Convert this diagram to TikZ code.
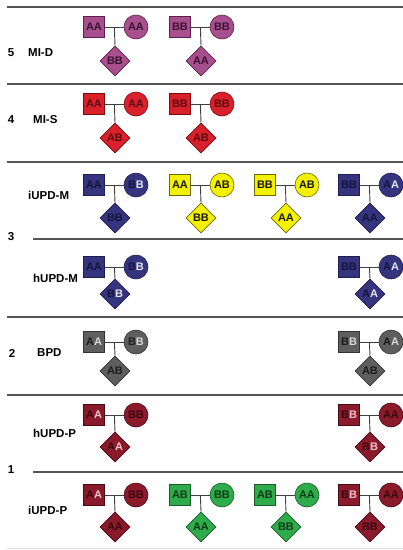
\documentclass[tikz,border=0pt]{standalone}
\usepackage{fontspec}
\setmainfont{Liberation Sans}
\usetikzlibrary{shapes.geometric,calc}

% fill, text and outline colours of each family
\definecolor{magF}{HTML}{AA4F8E}\definecolor{magT}{HTML}{3A1232}\definecolor{magD}{HTML}{5A2050}
\definecolor{redF}{HTML}{D9202B}\definecolor{redT}{HTML}{5C0A10}\definecolor{redD}{HTML}{7A0A10}
\definecolor{bluF}{HTML}{35357F}\definecolor{bluT}{HTML}{15153D}\definecolor{bluD}{HTML}{1E1E50}\definecolor{bluL}{HTML}{E6E6F5}
\definecolor{yelF}{HTML}{F3F000}\definecolor{yelT}{HTML}{1A1A00}\definecolor{yelD}{HTML}{6A6A00}
\definecolor{gryF}{HTML}{5E5E5E}\definecolor{gryT}{HTML}{1C1C1C}\definecolor{gryD}{HTML}{333333}\definecolor{gryL}{HTML}{DADADA}
\definecolor{drdF}{HTML}{8B1A2A}\definecolor{drdT}{HTML}{3A0810}\definecolor{drdD}{HTML}{4A0A15}\definecolor{drdL}{HTML}{F5C5CC}
\definecolor{grnF}{HTML}{2EAB4A}\definecolor{grnT}{HTML}{0E3A18}\definecolor{grnD}{HTML}{1A5A28}
\definecolor{rule}{HTML}{555555}

\newcommand{\hlb}[1]{\textcolor{bluL}{#1}}
\newcommand{\hlg}[1]{\textcolor{gryL}{#1}}
\newcommand{\hlr}[1]{\textcolor{drdL}{#1}}

% one family: father square, mother circle, child diamond
% #1 name, #2 x of square, #3 y of square, #4 y of diamond, #5 colour style, #6-#8 genotypes
\newcommand{\ped}[8]{%
  \node[sq,#5] (#1s) at (#2,#3) {#6};
  \node[ci,#5] (#1c) at (#2+42,#3) {#7};
  \node[dm,#5] (#1d) at (#2+21,#4) {#8};
  \draw[link] (#1s) -- (#1c);
  \coordinate (#1m) at ($(#1s.east)!0.5!(#1c.west)$);
  \draw[link] (#1m) -- (#1d.north);
}

\begin{document}
\begin{tikzpicture}[x=1pt,y=-1pt,
  geno/.style={inner sep=0pt,line width=0.6pt,font=\fontsize{11}{11}\selectfont\bfseries},
  sq/.style={geno,rectangle,minimum size=21.5pt},
  ci/.style={geno,circle,minimum size=24pt},
  dm/.style={geno,diamond,aspect=1,minimum size=30pt},
  mag/.style={fill=magF,draw=magD,text=magT},
  red/.style={fill=redF,draw=redD,text=redT},
  blu/.style={fill=bluF,draw=bluD,text=bluT},
  yel/.style={fill=yelF,draw=yelD,text=yelT},
  gry/.style={fill=gryF,draw=gryD,text=gryT},
  drd/.style={fill=drdF,draw=drdD,text=drdT},
  grn/.style={fill=grnF,draw=grnD,text=grnT},
  link/.style={draw=black!75,line width=0.9pt},
  sep/.style={draw=rule,line width=1.2pt},
  lbl/.style={anchor=west,inner sep=0pt,font=\fontsize{11.5}{11.5}\selectfont\bfseries},
  num/.style={inner sep=0pt,font=\fontsize{11.5}{11.5}\selectfont\bfseries}]
\useasboundingbox (0,0) rectangle (403,550);

% section rules
\coordinate (r0a) at (7,7);   \coordinate (r0b) at (403,7);
\coordinate (r1a) at (7,84);  \coordinate (r1b) at (403,84);
\coordinate (r2a) at (7,162); \coordinate (r2b) at (403,162);
\coordinate (r3a) at (33,239);\coordinate (r3b) at (403,239);
\coordinate (r4a) at (7,317); \coordinate (r4b) at (403,317);
\coordinate (r5a) at (7,395); \coordinate (r5b) at (403,395);
\coordinate (r6a) at (33,472);\coordinate (r6b) at (403,472);
\coordinate (r7a) at (7,548); \coordinate (r7b) at (403,548);
\foreach \i in {0,...,6} \draw[sep] (r\i a) -- (r\i b);
\draw[draw=black!12,line width=1pt] (r7a) -- (r7b);

% class numbers and names
\node[num] (n5) at (11,53) {5};
\node[num] (n4) at (11,120) {4};
\node[num] (n3) at (11,237) {3};
\node[num] (n2) at (12,353) {2};
\node[num] (n1) at (11,470) {1};
\node[lbl] (tMID) at (28,53) {MI-D};
\node[lbl] (tMIS) at (33,120) {MI-S};
\node[lbl] (tiM)  at (28,195) {iUPD-M};
\node[lbl] (thM)  at (33,278) {hUPD-M};
\node[lbl] (tBPD) at (37,353) {BPD};
\node[lbl] (thP)  at (33,433) {hUPD-P};
\node[lbl] (tiP)  at (28,510) {iUPD-P};

% 5 MI-D
\ped{a1}{94}{27}{61}{mag}{AA}{AA}{BB}
\ped{a2}{180}{27}{61}{mag}{BB}{BB}{AA}
% 4 MI-S
\ped{b1}{94}{104}{138}{red}{AA}{AA}{AB}
\ped{b2}{180}{104}{138}{red}{BB}{BB}{AB}
% 3 iUPD-M
\ped{c1}{94}{185}{218}{blu}{AA}{B\hlb{B}}{BB}
\ped{c2}{180}{185}{218}{yel}{AA}{AB}{BB}
\ped{c3}{265}{185}{218}{yel}{BB}{AB}{AA}
\ped{c4}{349}{185}{218}{blu}{BB}{A\hlb{A}}{AA}
% 3 hUPD-M
\ped{d1}{94}{267}{294}{blu}{AA}{B\hlb{B}}{B\hlb{B}}
\ped{d4}{349}{267}{294}{blu}{BB}{A\hlb{A}}{A\hlb{A}}
% 2 BPD
\ped{e1}{94}{342}{371}{gry}{A\hlg{A}}{B\hlg{B}}{AB}
\ped{e4}{349}{342}{371}{gry}{B\hlg{B}}{A\hlg{A}}{AB}
% 1 hUPD-P
\ped{f1}{94}{415}{447}{drd}{A\hlr{A}}{BB}{A\hlr{A}}
\ped{f4}{349}{415}{447}{drd}{B\hlr{B}}{AA}{B\hlr{B}}
% 1 iUPD-P
\ped{g1}{94}{495}{527}{drd}{A\hlr{A}}{BB}{AA}
\ped{g2}{180}{495}{527}{grn}{AB}{BB}{AA}
\ped{g3}{265}{495}{527}{grn}{AB}{AA}{BB}
\ped{g4}{349}{495}{527}{drd}{B\hlr{B}}{AA}{BB}
\end{tikzpicture}
\end{document}
